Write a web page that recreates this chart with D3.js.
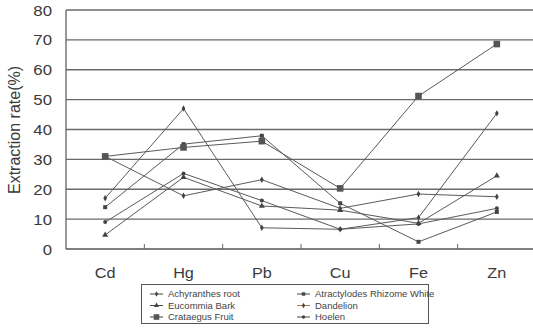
<!DOCTYPE html>
<html><head><meta charset="utf-8">
<script src="https://cdn.jsdelivr.net/npm/d3@7"></script>
<style>body{margin:0;background:#fff}svg{display:block}text{font-family:"Liberation Sans",Arial,sans-serif}</style>
</head><body><svg id="c" width="533" height="330"></svg>
<script>
const categories = ["Cd","Hg","Pb","Cu","Fe","Zn"];
const yTicks = [0,10,20,30,40,50,60,70,80];
const seriesNames = ["Achyranthes root","Atractylodes Rhizome White","Eucommia Bark","Dandelion","Crataegus Fruit","Hoelen"];
const achyranthes = [17.0, 47.0, 7.1, 6.6, 10.5, 45.4];
const atractylodes = [14.0, 35.1, 37.9, 15.3, 2.4, 12.4];
const eucommia = [4.7, 24.0, 14.4, 13.0, 8.6, 24.5];
const dandelion = [31.0, 17.8, 23.2, 13.6, 18.4, 17.5];
const crataegus = [31.0, 34.0, 36.1, 20.3, 51.2, 68.6];
const hoelen = [9.0, 25.3, 16.2, 6.6, 8.4, 13.6];
const markers = ["cross","square","triangle","cross","bigsquare","circle"];
const allValues = [achyranthes, atractylodes, eucommia, dandelion, crataegus, hoelen];

const svg = d3.select("#c");
const L = 66, R = 536, T = 10, B = 249;
const x = d3.scaleBand().domain(categories).range([L, R]);
const y = d3.scaleLinear().domain([0, 80]).range([B, T]);

// gridlines
svg.append("g").selectAll("line").data(yTicks.filter(d => d > 0)).join("line")
  .attr("x1", L).attr("x2", 533).attr("y1", d => y(d)).attr("y2", d => y(d))
  .attr("stroke", "#6a6a6a").attr("stroke-width", 1.3);

// axes lines
svg.append("line").attr("x1", L).attr("x2", L).attr("y1", T).attr("y2", B).attr("stroke", "#555").attr("stroke-width", 1.2);
svg.append("line").attr("x1", L).attr("x2", 533).attr("y1", B).attr("y2", B).attr("stroke", "#555").attr("stroke-width", 1.3);

// x tick marks between categories
svg.append("g").selectAll("line").data(categories.slice(1)).join("line")
  .attr("x1", d => x(d)).attr("x2", d => x(d)).attr("y1", B).attr("y2", B - 5)
  .attr("stroke", "#666").attr("stroke-width", 1);

// y tick labels
svg.append("g").selectAll("text").data(yTicks).join("text")
  .attr("transform", d => `translate(52,${y(d) + 5.5}) scale(1.12,1)`)
  .attr("text-anchor", "end").attr("font-size", 15).attr("fill", "#3a3a3a")
  .text(d => d);

// category labels
svg.append("g").selectAll("text").data(categories).join("text")
  .attr("transform", d => `translate(${x(d) + x.bandwidth() / 2},278) scale(1.12,1)`)
  .attr("text-anchor", "middle").attr("font-size", 14.5).attr("fill", "#3a3a3a")
  .text(d => d);

// y axis title
svg.append("text").attr("transform", "translate(20,130) rotate(-90)")
  .attr("text-anchor", "middle").attr("font-size", 16).attr("fill", "#3a3a3a")
  .text("Extraction rate(%)");

function drawMarker(g, type, cx, cy, scale) {
  const s = scale || 1;
  if (type === "square") g.append("rect").attr("x", cx - 2 * s).attr("y", cy - 2 * s).attr("width", 4 * s).attr("height", 4 * s).attr("fill", "#444");
  else if (type === "bigsquare") g.append("rect").attr("x", cx - 3.3 * s).attr("y", cy - 3.3 * s).attr("width", 6.6 * s).attr("height", 6.6 * s).attr("fill", "#555");
  else if (type === "triangle") g.append("path").attr("d", d3.symbol(d3.symbolTriangle, 16 * s * s)()).attr("transform", `translate(${cx},${cy})`).attr("fill", "#444");
  else if (type === "circle") g.append("circle").attr("cx", cx).attr("cy", cy).attr("r", 2 * s).attr("fill", "#444");
  else g.append("path").attr("d", d3.symbol(d3.symbolDiamond, 12 * s * s)()).attr("transform", `translate(${cx},${cy})`).attr("fill", "#444");
}

const line = d3.line().x((d, i) => x(categories[i]) + x.bandwidth() / 2).y(d => y(d));
allValues.forEach((vals, k) => {
  const g = svg.append("g");
  g.append("path").attr("d", line(vals)).attr("fill", "none").attr("stroke", "#5a5a5a").attr("stroke-width", 1);
  vals.forEach((v, i) => drawMarker(g, markers[k], x(categories[i]) + x.bandwidth() / 2, y(v)));
});

// legend
const lg = svg.append("g");
lg.append("rect").attr("x", 141.5).attr("y", 284.5).attr("width", 287).attr("height", 39)
  .attr("fill", "#fff").attr("stroke", "#555").attr("stroke-width", 1);
const colX = [150, 297], rowY = [294, 305.5, 317];
seriesNames.forEach((name, k) => {
  const cx = colX[k % 2], cy = rowY[Math.floor(k / 2)];
  lg.append("line").attr("x1", cx).attr("x2", cx + 13).attr("y1", cy).attr("y2", cy)
    .attr("stroke", k === 3 ? "#b07850" : "#444").attr("stroke-width", 1);
  drawMarker(lg, markers[k], cx + 6.5, cy, 0.85);
  lg.append("text").attr("x", cx + 18).attr("y", cy + 3.4).attr("font-size", 9.5).attr("fill", "#444").text(name);
});
</script></body></html>
